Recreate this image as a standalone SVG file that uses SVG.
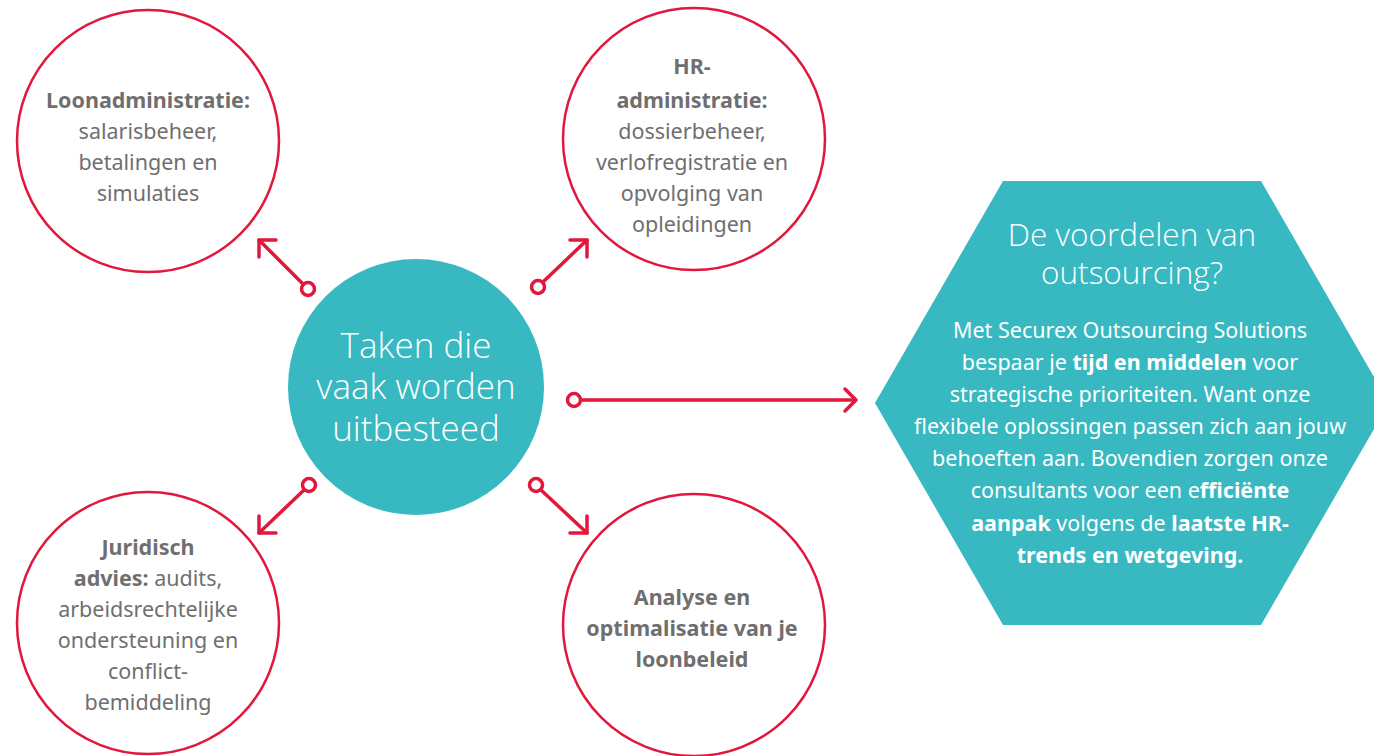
<svg xmlns="http://www.w3.org/2000/svg" width="1374" height="756" viewBox="0 0 1374 756">
<style>
.ring{fill:#fff;stroke:#E1183C;stroke-width:2.5}
.hub{fill:#38B8C1}
.g{font-family:"Noto Sans","Liberation Sans",sans-serif;font-size:21.5px;fill:#6f6f6f;text-anchor:middle}
.b{font-weight:bold}
.w{font-family:"Noto Sans","Liberation Sans",sans-serif;font-size:21.5px;fill:#fff;text-anchor:middle}
.h{font-family:"Open Sans","Noto Sans",sans-serif;font-weight:300;fill:#fff;text-anchor:middle}
.conn line,.conn polyline{stroke:#E1183C;stroke-width:3.5;fill:none;stroke-linecap:round;stroke-linejoin:round}
.conn circle{fill:#fff;stroke:#E1183C;stroke-width:3.5}
</style>
<rect width="1374" height="756" fill="#fff"/>
<g id="node-loon">
<circle class="ring" cx="148" cy="141" r="131"/>
<text class="g"><tspan class="b" x="148" y="108">Loonadministratie:</tspan><tspan x="148" y="139">salarisbeheer,</tspan><tspan x="148" y="170">betalingen en</tspan><tspan x="148" y="201">simulaties</tspan></text>
</g>
<g id="node-hr">
<circle class="ring" cx="694" cy="139" r="131"/>
<text class="g"><tspan class="b" x="692" y="74">HR-</tspan><tspan class="b" x="692" y="108">administratie:</tspan><tspan x="692" y="139">dossierbeheer,</tspan><tspan x="692" y="170">verlofregistratie en</tspan><tspan x="692" y="201">opvolging van</tspan><tspan x="692" y="232">opleidingen</tspan></text>
</g>
<g id="node-juridisch">
<circle class="ring" cx="148" cy="623" r="131"/>
<text class="g"><tspan class="b" x="148" y="555">Juridisch</tspan><tspan x="148" y="586"><tspan class="b">advies:</tspan> audits,</tspan><tspan x="148" y="617">arbeidsrechtelijke</tspan><tspan x="148" y="648">ondersteuning en</tspan><tspan x="148" y="679">conflict-</tspan><tspan x="148" y="710">bemiddeling</tspan></text>
</g>
<g id="node-analyse">
<circle class="ring" cx="694" cy="625" r="131"/>
<text class="g b"><tspan x="692" y="605">Analyse en</tspan><tspan x="692" y="636">optimalisatie van je</tspan><tspan x="692" y="667">loonbeleid</tspan></text>
</g>
<g id="node-center">
<circle class="hub" cx="416" cy="387" r="128"/>
<text class="h" font-size="35"><tspan x="416" y="358">Taken die</tspan><tspan x="416" y="399">vaak worden</tspan><tspan x="416" y="441">uitbesteed</tspan></text>
</g>
<g id="node-voordelen">
<polygon class="hub" points="1003,181 1261,181 1389,403 1261,625 1003,625 875,403"/>
<text class="h" font-size="31.5"><tspan x="1132" y="246">De voordelen van</tspan><tspan x="1132" y="284">outsourcing?</tspan></text>
<text class="w"><tspan x="1130" y="338">Met Securex Outsourcing Solutions</tspan><tspan x="1130" y="370">bespaar je <tspan class="b">tijd en middelen</tspan> voor</tspan><tspan x="1130" y="402">strategische prioriteiten. Want onze</tspan><tspan x="1130" y="434">flexibele oplossingen passen zich aan jouw</tspan><tspan x="1130" y="466">behoeften aan. Bovendien zorgen onze</tspan><tspan x="1130" y="498">consultants voor een e<tspan class="b">fficiënte</tspan></tspan><tspan x="1130" y="531"><tspan class="b">aanpak</tspan> volgens de <tspan class="b">laatste HR-</tspan></tspan><tspan class="b" x="1130" y="563">trends en wetgeving.</tspan></text>
</g>
<g id="connectors" class="conn">
<line x1="303" y1="284" x2="259" y2="240"/><polyline points="259,257 259,240 276,240"/><circle cx="308" cy="289" r="6.5"/>
<line x1="543" y1="282" x2="587" y2="240"/><polyline points="570,240 587,240 587,257"/><circle cx="538" cy="287" r="6.5"/>
<line x1="581" y1="400" x2="855" y2="400"/><polyline points="845,389 856,400 845,411"/><circle cx="574" cy="400" r="6.5"/>
<line x1="304" y1="490" x2="259" y2="533"/><polyline points="259,516 259,533 276,533"/><circle cx="309" cy="485" r="6.5"/>
<line x1="541" y1="490" x2="587" y2="533"/><polyline points="570,533 587,533 587,516"/><circle cx="536" cy="485" r="6.5"/>
</g>
</svg>
